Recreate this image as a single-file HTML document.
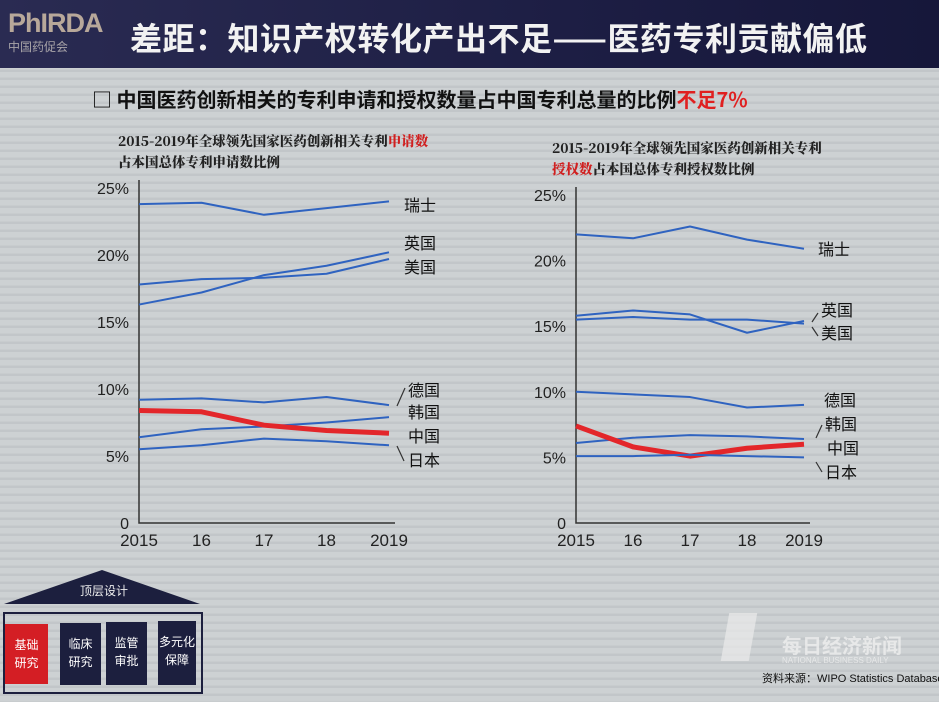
<!DOCTYPE html>
<html><head><meta charset="utf-8">
<style>
body{margin:0;width:939px;height:702px;overflow:hidden;background:#c6cacd;font-family:"Liberation Sans","Noto Sans CJK SC",sans-serif;}
#wrap{position:relative;width:939px;height:702px;background:repeating-linear-gradient(180deg,#cdd1d3 0px,#cdd1d3 5px,#c2c6c9 6px,#c2c6c9 8px);}
#hdr{position:absolute;left:0;top:0;width:939px;height:68px;background:linear-gradient(90deg,#2a2b52,#1d1e44 60%,#16173a);}
.t{position:absolute;white-space:nowrap;}
</style></head><body>
<div id="wrap">
<div id="hdr"></div>
<div class="t" style="left:8px;top:8px;font-size:27px;font-weight:bold;color:#b8a89a;letter-spacing:-1px">PhIRDA</div>
<div class="t" style="left:8px;top:38px;font-size:12px;color:#a8a4a8">中国药促会</div>
<div class="t" style="left:130px;top:14px;font-size:32px;font-weight:bold;color:#f2f2f2;letter-spacing:0.5px;font-family:'Noto Sans CJK SC',sans-serif">差距：知识产权转化产出不足——医药专利贡献偏低</div>
<div class="t" style="left:92px;top:84px;font-size:20px;font-weight:bold;color:#111;font-family:'Noto Sans CJK SC',sans-serif">□ 中国医药创新相关的专利申请和授权数量占中国专利总量的比例<span style="color:#e02020">不足7%</span></div>
<div class="t" style="left:118px;top:130px;font-size:13.5px;font-weight:900;color:#222;line-height:21px;font-family:'Noto Serif CJK SC',serif">2015-2019年全球领先国家医药创新相关专利<span style="color:#d02020">申请数</span><br>占本国总体专利申请数比例</div>
<div class="t" style="left:552px;top:137px;font-size:13.5px;font-weight:900;color:#222;line-height:21px;font-family:'Noto Serif CJK SC',serif">2015-2019年全球领先国家医药创新相关专利<br><span style="color:#d02020">授权数</span>占本国总体专利授权数比例</div>
<svg id="ch" width="939" height="702" style="position:absolute;left:0;top:0"></svg>

<div>
<div style="position:absolute;left:4px;top:570px;width:0;height:0;border-left:98px solid transparent;border-right:98px solid transparent;border-bottom:34px solid #1c1f3e"></div>
<div class="t" style="left:80px;top:582px;font-size:12px;color:#eee">顶层设计</div>
<div style="position:absolute;left:3px;top:612px;width:196px;height:78px;border:2px solid #1c1f3e"></div>
<div class="t" style="left:5px;top:624px;width:43px;height:60px;background:#d41e24;color:#fff;font-size:12px;text-align:center;line-height:18px;padding-top:12px;box-sizing:border-box">基础<br>研究</div>
<div class="t" style="left:60px;top:623px;width:41px;height:62px;background:#1c1f3e;color:#fff;font-size:12px;text-align:center;line-height:18px;padding-top:12px;box-sizing:border-box">临床<br>研究</div>
<div class="t" style="left:106px;top:622px;width:41px;height:63px;background:#1c1f3e;color:#fff;font-size:12px;text-align:center;line-height:18px;padding-top:12px;box-sizing:border-box">监管<br>审批</div>
<div class="t" style="left:158px;top:621px;width:38px;height:64px;background:#1c1f3e;color:#fff;font-size:12px;text-align:center;line-height:18px;padding-top:12px;box-sizing:border-box">多元化<br>保障</div>
</div>
<div class="t" style="left:725px;top:613px;width:28px;height:48px;background:rgba(235,235,235,0.7);transform:skewX(-10deg)"></div>
<div class="t" style="left:782px;top:630px;font-size:20px;color:rgba(240,240,240,0.75);font-weight:bold">每日经济新闻</div>
<div class="t" style="left:782px;top:656px;font-size:8px;color:rgba(240,240,240,0.75)">NATIONAL BUSINESS DAILY</div>
<div class="t" style="left:762px;top:670px;font-size:11px;color:#111">资料来源：WIPO Statistics Database</div>
</div>
<script>
const years=["2015","16","17","18","2019"];
const yTicks=[0,5,10,15,20,25];
const yTickLabels=["0","5%","10%","15%","20%","25%"];
const countries=["瑞士","英国","美国","德国","韩国","中国","日本"];
const appSwiss=[23.8,23.9,23.0,23.5,24.0];
const appUK=[16.3,17.2,18.5,19.2,20.2];
const appUS=[17.8,18.2,18.3,18.6,19.7];
const appDE=[9.2,9.3,9.0,9.4,8.8];
const appKR=[6.4,7.0,7.2,7.5,7.9];
const appCN=[8.4,8.3,7.3,6.9,6.7];
const appJP=[5.5,5.8,6.3,6.1,5.8];
const grSwiss=[22.0,21.7,22.6,21.6,20.9];
const grUK=[15.8,16.2,15.9,14.5,15.4];
const grUS=[15.5,15.7,15.5,15.5,15.2];
const grDE=[10.0,9.8,9.6,8.8,9.0];
const grKR=[6.1,6.5,6.7,6.6,6.4];
const grCN=[7.4,5.8,5.1,5.7,6.0];
const grJP=[5.1,5.1,5.2,5.1,5.0];

const svg=document.getElementById('ch');const NS="http://www.w3.org/2000/svg";
function mk(t,a){const e=document.createElementNS(NS,t);for(const k in a)e.setAttribute(k,a[k]);svg.appendChild(e);return e;}
function chart(cfg){
 const xs=i=>cfg.x0+i*(cfg.x1-cfg.x0)/(years.length-1);
 const ys=v=>cfg.y0-v*(cfg.y0-cfg.y25)/25;
 let ax=mk('polyline',{points:`${cfg.x0},${cfg.y25-8} ${cfg.x0},${cfg.y0} ${cfg.x1+6},${cfg.y0}`,fill:'none',stroke:'#333','stroke-width':1.5});
 
 
 yTicks.forEach((v,i)=>{const t=mk('text',{x:cfg.x0-10,y:ys(v)+6,'text-anchor':'end','font-size':16,fill:'#222'});t.textContent=yTickLabels[i];
  
  });
 years.forEach((y,i)=>{const t=mk('text',{x:xs(i),y:cfg.y0+23,'text-anchor':'middle','font-size':17,fill:'#222'});t.textContent=y;
  
  });
 cfg.series.forEach((s,k)=>{const red=countries[k]==="中国";
  const p=mk('polyline',{points:s.map((v,i)=>xs(i)+','+ys(v)).join(' '),fill:'none',stroke:red?'#e3262a':'#2f63c0','stroke-width':red?5:2,'stroke-linejoin':'round'});
  
  
  const t=mk('text',{x:cfg.lx[k],y:cfg.ly[k],'font-size':16,fill:'#111'});t.textContent=countries[k];
  
  });
 cfg.leaders.forEach(l=>{const e=mk('line',{x1:l[0],y1:l[1],x2:l[2],y2:l[3],stroke:'#333','stroke-width':1.2});
  
  });
}
chart({id:'applications',x0:139,x1:389,y0:523,y25:188,series:[appSwiss,appUK,appUS,appDE,appKR,appCN,appJP],
 lx:[404,404,404,408,408,408,408],ly:[211,249,273,396,418,442,466],leaders:[[397,406,405,388],[397,446,404,461]]});
chart({id:'grants',x0:576,x1:804,y0:523,y25:195,series:[grSwiss,grUK,grUS,grDE,grKR,grCN,grJP],
 lx:[818,821,821,824,825,827,825],ly:[255,316,339,406,430,454,478],leaders:[[812,322,818,313],[812,327,818,336],[816,438,822,425],[816,462,822,472]]});
</script>
</body></html>
